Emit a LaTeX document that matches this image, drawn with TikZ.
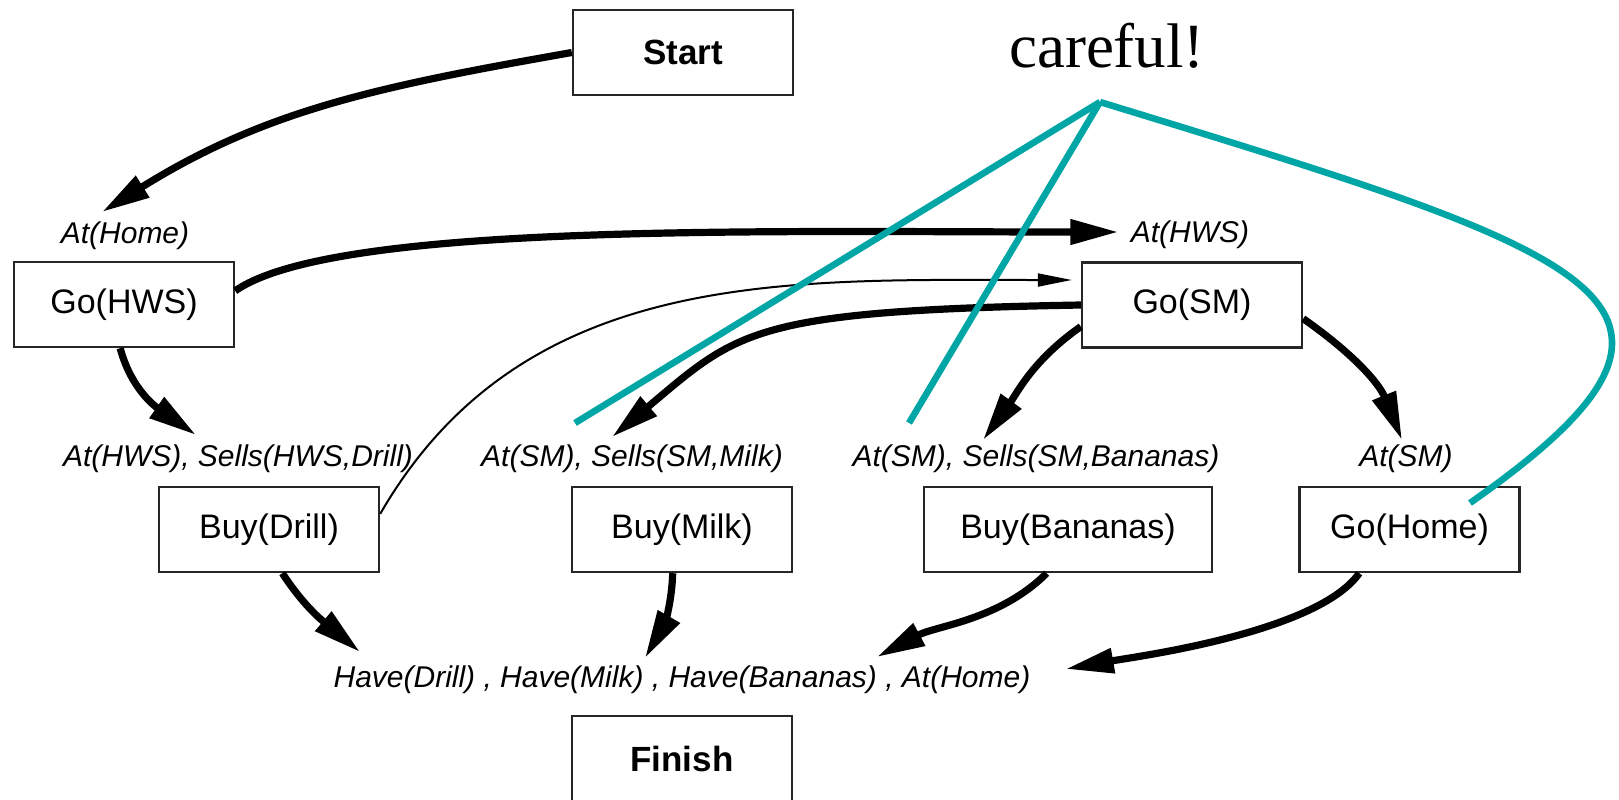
\documentclass[tikz,border=0pt]{standalone}
\usepackage{fontspec}
\setmainfont{Liberation Sans}
\newfontfamily\notefont{Liberation Serif}
\usetikzlibrary{arrows.meta,calc}
\definecolor{noteteal}{RGB}{0,166,166}
\begin{document}
\begin{tikzpicture}[x=0.5pt,y=0.5pt,
  act/.style={draw=black!85, line width=1.2pt, inner sep=0pt,
    minimum width=110pt, minimum height=42.5pt,
    font=\fontsize{17}{20}\selectfont},
  endact/.style={act, font=\fontsize{17.5}{20}\selectfont\bfseries},
  cond/.style={inner sep=0pt, anchor=base, font=\fontsize{15}{18}\selectfont\itshape},
  link/.style={line width=3.6pt, -{Triangle[length=24pt,width=12pt]}},
  thinlink/.style={line width=1pt, -{Triangle[length=17pt,width=6.5pt]}},
  note/.style={draw=noteteal, line width=3.3pt}]
\useasboundingbox (0,0) rectangle (1619,-799);

% actions
\node[endact] (start)    at (683,-52.5)   {Start};
\node[act]    (gohws)    at (124,-304.5)  {Go(HWS)};
\node[act]    (gosm)     at (1192,-305)   {Go(SM)};
\node[act]    (buydrill) at (269,-529.5)  {Buy(Drill)};
\node[act]    (buymilk)  at (682,-529.5)  {Buy(Milk)};
\node[act, minimum width=144pt] (buyban) at (1068,-529.5) {Buy(Bananas)};
\node[act]    (gohome)   at (1409.5,-529.5) {Go(Home)};
\node[endact] (finish)   at (682,-758.5)  {Finish};

% preconditions
\node[cond] (athome)   at (125,-243)  {At(Home)};
\node[cond] (athws)    at (1190,-242) {At(HWS)};
\node[cond] (lbldrill) at (238,-466)  {At(HWS), Sells(HWS,Drill)};
\node[cond] (lblmilk)  at (632,-466)  {At(SM), Sells(SM,Milk)};
\node[cond] (lblban)   at (1036,-466) {At(SM), Sells(SM,Bananas)};
\node[cond] (lblatsm)  at (1406,-466) {At(SM)};
\node[cond] (have)     at (682,-687)  {Have(Drill) , Have(Milk) , Have(Bananas) , At(Home)};

% causal links
\draw[link] (start.west) to[out=190, in=32] ($(athome.base)+(-23,31)$);
\draw[link] (gohws.7) .. controls +(35:120) and +(180:350) .. ($(athws.base west)+(-12,10)$);
\draw[link] (gohws.265) to[out=285, in=145] ($(lbldrill.base)+(-42,31)$);
\draw[thinlink] (buydrill.8) to[out=60, in=180] ($(gosm.west)+(-9,25)$);
\draw[link] (gosm.west) .. controls +(181:330) and +(40:165) .. ($(lblmilk.base)+(-20,29)$);
\draw[link] (gosm.191) to[out=215, in=54] ($(lblban.base)+(-53,26)$);
\draw[link] (gosm.353) to[out=-35, in=112] ($(lblatsm.base)+(-4,26)$);
\draw[link] (buydrill.287) to[out=-57, in=140] ($(have.base)+(-322,35)$);
\draw[link] (buymilk.258) to[out=268, in=60] ($(have.base)+(-37,29)$);
\draw[link] (buyban.244) to[out=225, in=28, looseness=0.9] ($(have.base)+(195,30)$);
\draw[link] (gohome.221) to[out=235, in=10, looseness=0.6] ($(have.base east)+(35,18)$);

% warning note
\node[anchor=base, inner sep=0pt, font=\notefont\fontsize{31.5}{36}\selectfont] (careful) at (1107,-67) {careful!};
\coordinate (apex) at (1100,-102);
\coordinate (endmilk) at (575,-423);
\coordinate (endban) at (909,-423);
\coordinate (endhome) at (1470,-503);
\draw[note] (apex) -- (endmilk);
\draw[note] (apex) -- (endban);
\draw[note] (apex) .. controls +(-17:520) and +(35:350) .. (endhome);
\end{tikzpicture}
\end{document}
